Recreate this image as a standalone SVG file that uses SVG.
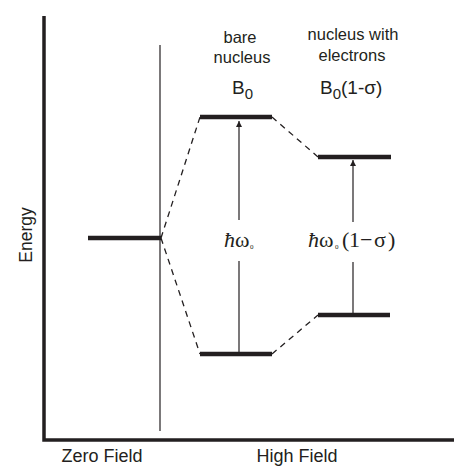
<svg xmlns="http://www.w3.org/2000/svg" width="454" height="467" viewBox="0 0 454 467">
<style>
.lvl{stroke:#231f20;stroke-width:4.5;fill:none}
.dash{stroke:#231f20;stroke-width:1.3;stroke-dasharray:6,5;fill:none}
.thin{stroke:#231f20;stroke-width:1.2;fill:none}
.axis{stroke:#231f20;stroke-width:3.5;fill:none}
.sans{font-family:"Liberation Sans",Arial,sans-serif;fill:#231f20}
.ser{font-family:"Liberation Serif","Times New Roman",serif;fill:#231f20}
</style>
<defs>
<marker id="ah" viewBox="0 0 10 10" refX="10" refY="5" markerWidth="6" markerHeight="8" markerUnits="userSpaceOnUse" orient="auto"><path d="M0,0 L10,5 L0,10 Z" fill="#231f20"/></marker>
</defs>
<g id="axes">
<path class="axis" d="M44,16 L44,440 L454,440"/>
<line class="thin" x1="160" y1="45" x2="160" y2="431"/>
<text class="sans" font-size="17.5" transform="translate(32,235) rotate(-90)" text-anchor="middle">Energy</text>
<text class="sans" font-size="18" x="102" y="462" text-anchor="middle">Zero Field</text>
<text class="sans" font-size="18" x="297" y="462" text-anchor="middle">High Field</text>
</g>
<g id="zero-level"><line class="lvl" x1="88" y1="238" x2="161" y2="238"/></g>
<g id="bare-top"><line class="lvl" x1="200" y1="117" x2="272" y2="117"/></g>
<g id="bare-bottom"><line class="lvl" x1="200" y1="354" x2="272" y2="354"/></g>
<g id="elec-top"><line class="lvl" x1="318" y1="157" x2="391" y2="157"/></g>
<g id="elec-bottom"><line class="lvl" x1="318" y1="315" x2="390" y2="315"/></g>
<g id="labels">
<text class="sans" font-size="16.5" x="240" y="43" text-anchor="middle">bare</text>
<text class="sans" font-size="16.5" x="242" y="63" text-anchor="middle">nucleus</text>
<text class="sans" font-size="19" x="232" y="94">B<tspan font-size="15" dy="5">0</tspan></text>
<text class="sans" font-size="16.5" x="353" y="40" text-anchor="middle">nucleus with</text>
<text class="sans" font-size="16.5" x="352" y="61" text-anchor="middle">electrons</text>
<text class="sans" font-size="19" x="320" y="94">B<tspan font-size="15" dy="5">0</tspan><tspan dy="-5">(1-σ)</tspan></text>
<text class="ser" font-size="22" y="247"><tspan x="224" font-style="italic">ħ</tspan><tspan x="235">ω</tspan><tspan x="250" font-size="7" dy="2">0</tspan></text>
<text class="ser" font-size="22" y="247"><tspan x="308" font-style="italic">ħ</tspan><tspan x="319">ω</tspan><tspan x="335" font-size="7" dy="2">0</tspan><tspan x="342" dy="-2">(</tspan><tspan x="349">1</tspan><tspan x="360">−</tspan><tspan x="374">σ</tspan><tspan x="388">)</tspan></text>
</g>
<g id="connectors">
<line class="dash" x1="161" y1="238" x2="200" y2="117"/>
<line class="dash" x1="161" y1="238" x2="200" y2="354"/>
<line class="dash" x1="272" y1="117" x2="318" y2="157"/>
<line class="dash" x1="272" y1="354" x2="318" y2="315"/>
<line class="thin" x1="239" y1="352" x2="239" y2="261"/>
<line class="thin" x1="239" y1="220" x2="239" y2="121" marker-end="url(#ah)"/>
<line class="thin" x1="353" y1="313" x2="353" y2="262"/>
<line class="thin" x1="353" y1="222" x2="353" y2="160" marker-end="url(#ah)"/>
</g>
</svg>
